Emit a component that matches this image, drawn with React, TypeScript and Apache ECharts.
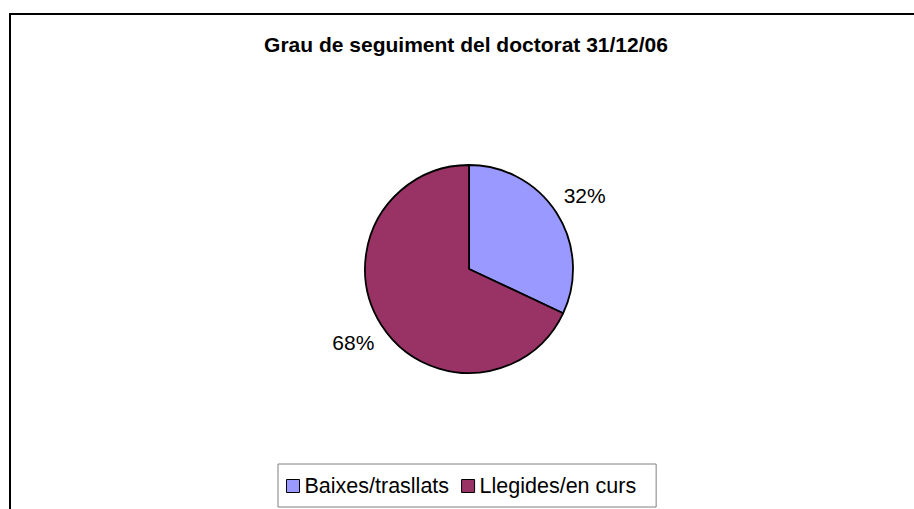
import React, { useEffect, useRef } from "react";
import * as echarts from "echarts";

const titleText = "Grau de seguiment del doctorat 31/12/06";
const categories = ["Baixes/trasllats", "Llegides/en curs"];
const values = [32, 68];
const colors = ["#9999FF", "#993366"];

const FONT = "'Liberation Sans', Arial, sans-serif";

export default function App() {
  const ref = useRef<HTMLDivElement>(null);
  useEffect(() => {
    if (!ref.current) return;
    const chart = echarts.init(ref.current, null, { renderer: "svg" });
    const data = categories.map((name, i) => ({
      name,
      value: values[i],
      itemStyle: { color: colors[i] },
    }));
    chart.setOption({
      animation: false,
      backgroundColor: "#ffffff",
      graphic: [
        {
          type: "rect",
          shape: { x: 10, y: 14, width: 2000, height: 2000 },
          style: { fill: "none", stroke: "#000000", lineWidth: 2 },
          silent: true,
          z: 0,
        },
        {
          type: "text",
          x: 466,
          y: 44,
          style: {
            text: titleText,
            align: "center",
            verticalAlign: "middle",
            fill: "#000000",
            font: `bold 21px ${FONT}`,
          },
          silent: true,
        },
      ],
      legend: {
        data: categories,
        left: 278,
        top: 464,
        orient: "horizontal",
        itemWidth: 13,
        itemHeight: 13,
        itemGap: 12,
        icon: "rect",
        padding: [10, 20, 9, 8],
        borderColor: "#808080",
        borderWidth: 1,
        backgroundColor: "#ffffff",
        itemStyle: { borderColor: "#000000", borderWidth: 1 },
        textStyle: {
          fontFamily: FONT,
          fontSize: 21.5,
          color: "#000000",
          lineHeight: 24,
        },
        selectedMode: false,
      },
      series: [
        {
          type: "pie",
          center: [469, 269],
          radius: [0, 104],
          startAngle: 90,
          clockwise: true,
          data,
          itemStyle: { borderColor: "#000000", borderWidth: 1.8 },
          label: { show: false },
          labelLine: { show: false },
          emphasis: { disabled: true },
        },
        {
          type: "pie",
          center: [469, 269],
          radius: [124, 144],
          startAngle: 90,
          clockwise: true,
          silent: true,
          data: categories.map((name, i) => ({
            name,
            value: values[i],
            itemStyle: { color: "rgba(0,0,0,0)", borderWidth: 0 },
          })),
          label: {
            show: true,
            position: "inside",
            formatter: (p: any) => Math.round(p.percent) + "%",
            fontFamily: FONT,
            fontSize: 21,
            color: "#000000",
          },
          labelLine: { show: false },
          emphasis: { disabled: true },
        },
      ],
    });
    return () => chart.dispose();
  }, []);
  return (
    <div
      ref={ref}
      style={{ position: "fixed", left: 0, top: 0, width: 914, height: 509 }}
    />
  );
}
